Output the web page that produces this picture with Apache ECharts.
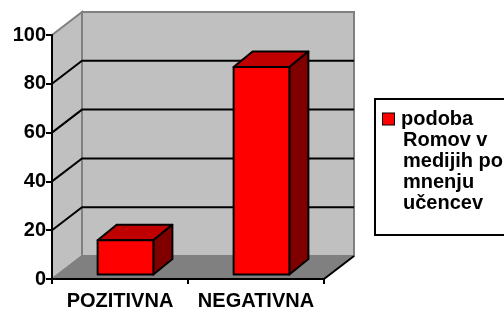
<!DOCTYPE html>
<html>
<head>
<meta charset="utf-8">
<script src="https://cdn.jsdelivr.net/npm/echarts@6/dist/echarts.min.js"></script>
<style>
html, body { margin: 0; padding: 0; background: #fff; }
#chart { width: 504px; height: 311px; }
</style>
</head>
<body>
<div id="chart"></div>
<script>
// data
var categories = ['POZITIVNA', 'NEGATIVNA'];
var values = [14, 85];
var yTicks = [0, 20, 40, 60, 80, 100];
var seriesName = 'podoba Romov v medijih po mnenju učencev';
var legendLines = ['podoba', 'Romov v', 'medijih po', 'mnenju', 'učencev'];

// 3d look (pixels)
var DX = 30, DY = -23;     // walls depth
var FX = 5.5, FY = -4.5;   // bar front inset
var BX = 19, BY = -15.5;   // bar depth
var FONT = 'Liberation Sans';

var myChart = echarts.init(document.getElementById('chart'));

function renderWalls(params, api) {
    var cs = params.coordSys;
    var x0 = cs.x, x1 = cs.x + cs.width, yt = cs.y, yb = cs.y + cs.height;
    var kids = [];
    kids.push({
        type: 'polygon',
        shape: {points: [[x0 + DX, yt + DY], [x1 + DX, yt + DY], [x1 + DX, yb + DY], [x0 + DX, yb + DY]]},
        style: {fill: '#c0c0c0', stroke: '#808080', lineWidth: 2}
    });
    kids.push({
        type: 'polygon',
        shape: {points: [[x0, yt], [x0 + DX, yt + DY], [x0 + DX, yb + DY], [x0, yb]]},
        style: {fill: '#c0c0c0', stroke: '#808080', lineWidth: 2}
    });
    kids.push({
        type: 'polygon',
        shape: {points: [[x0, yb], [x0 + DX, yb + DY], [x1 + DX, yb + DY], [x1, yb]]},
        style: {fill: '#808080', stroke: '#808080', lineWidth: 1}
    });
    kids.push({
        type: 'line',
        shape: {x1: x1, y1: yb, x2: x1 + DX, y2: yb + DY},
        style: {stroke: '#000', lineWidth: 2}
    });
    yTicks.forEach(function (v) {
        if (v === yTicks[0] || v === yTicks[yTicks.length - 1]) return;
        var y = api.coord([0, v])[1];
        kids.push({
            type: 'polyline',
            shape: {points: [[x0, y], [x0 + DX, y + DY], [x1 + DX, y + DY]]},
            style: {stroke: '#000', lineWidth: 2, fill: null}
        });
    });
    return {type: 'group', children: kids};
}

function renderBar(params, api) {
    var i = api.value(0), v = api.value(1);
    var base = api.coord([i, 0]);
    var top = api.coord([i, v]);
    var w = api.size([1, 0])[0] * 0.41;
    var l = base[0] - w / 2 + FX, r = base[0] + w / 2 + FX;
    var b = base[1] + FY, t = top[1] + FY;
    function st(fill) {
        return {fill: fill, stroke: '#000', lineWidth: 2, lineJoin: 'round'};
    }
    return {
        type: 'group',
        children: [
            {type: 'polygon', shape: {points: [[l, t], [l + BX, t + BY], [r + BX, t + BY], [r, t]]}, style: st('#c00000')},
            {type: 'polygon', shape: {points: [[r, t], [r + BX, t + BY], [r + BX, b + BY], [r, b]]}, style: st('#800000')},
            {type: 'rect', shape: {x: l, y: t, width: w, height: b - t}, style: st('#ff0000')}
        ]
    };
}

var option = {
    animation: false,
    grid: {left: 52, top: 35, width: 272, height: 245},
    legend: {
        data: [seriesName],
        left: 375,
        top: 99,
        orient: 'vertical',
        icon: 'none',
        itemWidth: 1,
        itemHeight: 1,
        padding: [10, 160, 22, 2],
        borderColor: '#000',
        borderWidth: 2,
        backgroundColor: '#fff',
        selectedMode: false,
        formatter: function () {
            return legendLines.map(function (s, k) {
                return (k === 0 ? '{m|}{g|}' : '{s|}') + '{t|' + s + '}';
            }).join('\n');
        },
        textStyle: {
            rich: {
                m: {width: 11, height: 11, backgroundColor: '#ff0000', borderColor: '#000', borderWidth: 1},
                g: {width: 7},
                s: {width: 20},
                t: {fontFamily: FONT, fontWeight: 'bold', fontSize: 20, color: '#000', lineHeight: 21}
            }
        }
    },
    xAxis: {
        type: 'category',
        data: categories,
        axisLine: {lineStyle: {color: '#000', width: 2}},
        axisTick: {show: true, length: 5, lineStyle: {color: '#000', width: 2}},
        axisLabel: {
            interval: 0,
            hideOverlap: false,
            color: '#000', fontFamily: FONT, fontWeight: 'bold', fontSize: 20, margin: 12
        },
        splitLine: {show: false}
    },
    yAxis: {
        type: 'value',
        min: 0,
        max: 100,
        interval: 20,
        axisLine: {show: true, lineStyle: {color: '#000', width: 2}},
        axisTick: {show: true, length: 6, lineStyle: {color: '#000', width: 2}},
        axisLabel: {color: '#000', fontFamily: FONT, fontWeight: 'bold', fontSize: 20, margin: 6},
        splitLine: {show: false}
    },
    series: [
        {
            type: 'custom',
            name: 'walls',
            silent: true,
            clip: false,
            z: 0,
            renderItem: renderWalls,
            data: [[0, 0]]
        },
        {
            type: 'custom',
            name: seriesName,
            color: '#ff0000',
            clip: false,
            z: 2,
            renderItem: renderBar,
            data: values.map(function (v, i) { return [i, v]; })
        }
    ]
};
myChart.setOption(option);
</script>
</body>
</html>
